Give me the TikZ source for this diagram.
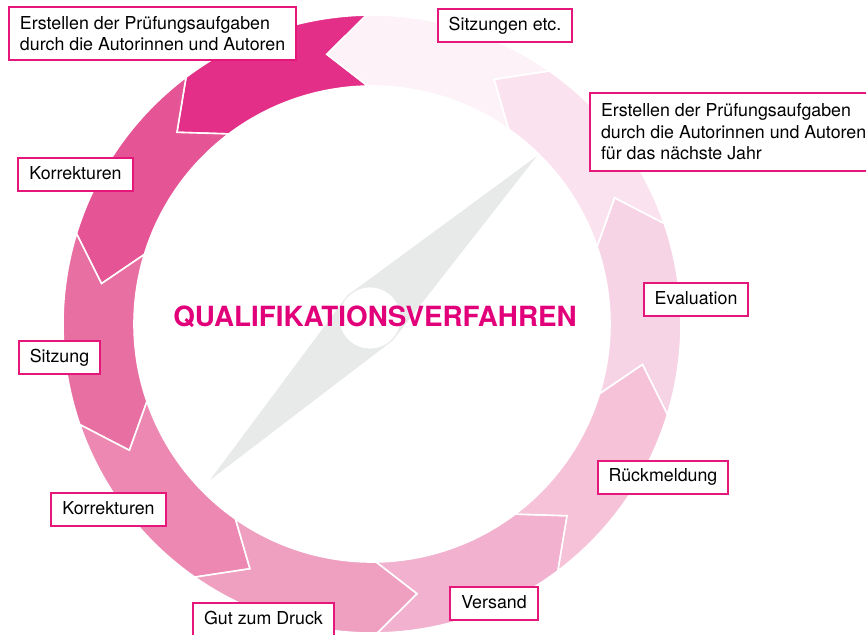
\documentclass[tikz,border=0pt]{standalone}
\usepackage{fontspec}
\setmainfont{TeX Gyre Heros}
\usepackage{xcolor}
\definecolor{qv-magenta}{HTML}{E2007A}
\definecolor{qv-frame}{HTML}{E5177B}
\definecolor{qv-needle}{HTML}{E8E9E9}
\definecolor{seg-0}{HTML}{E32F88}
\definecolor{seg-1}{HTML}{E55495}
\definecolor{seg-2}{HTML}{E86FA2}
\definecolor{seg-3}{HTML}{EC88B1}
\definecolor{seg-4}{HTML}{EF9FC0}
\definecolor{seg-5}{HTML}{F2B1CE}
\definecolor{seg-6}{HTML}{F5C2D8}
\definecolor{seg-7}{HTML}{F7D4E5}
\definecolor{seg-8}{HTML}{FAE3EE}
\definecolor{seg-9}{HTML}{FDF2F7}
\usepackage{tikz}
\tikzset{segment/.style = {draw=white, line width=0.8pt}}
\tikzset{stage/.style = {draw=qv-frame, line width=1pt, fill=white, align=left, inner xsep=5.5pt, inner ysep=4pt, font=\fontsize{8.9}{10.7}\selectfont}}
\tikzset{short/.style = {stage, text height=6.6pt, text depth=1.9pt}}
\tikzset{heading/.style = {text=qv-magenta, font=\fontsize{13.9}{16}\selectfont\bfseries}}

\begin{document}
\begin{tikzpicture}[x=0.5pt, y=0.5pt]

\useasboundingbox (-372,-310) rectangle (494,324);

% ring of arrows, running counterclockwise
\foreach \k/\col in {0/seg-0, 1/seg-1, 2/seg-2, 3/seg-3, 4/seg-4, 5/seg-5, 6/seg-6, 7/seg-7, 8/seg-8, 9/seg-9} {
  \pgfmathsetmacro\a{91+36*\k}
  \pgfmathsetmacro\b{\a+36}
  \filldraw[segment, fill=\col] (\a:309) arc[start angle=\a, end angle=\b, radius=309]
    -- (\b+8.5:273.5) -- (\b:238) arc[start angle=\b, end angle=\a, radius=238]
    -- (\a+8.5:273.5) -- cycle;
}

% compass needle
\coordinate (hub) at (-2,6);
\coordinate (tip-ne) at (165,168);
\coordinate (tip-sw) at (-162,-156);
\coordinate (side-nw) at (-24.6,28.6);
\coordinate (side-se) at (20.6,-16.6);
\fill[qv-needle] (tip-ne) -- (side-nw) -- (tip-sw) -- (side-se) -- cycle;
\filldraw[fill=white, draw=qv-needle, line width=0.4pt] (hub) circle (31);

\node[heading] (title) at (3,7.5) {QUALIFIKATIONSVERFAHREN};

\node[stage, anchor=west, minimum height=26.5pt] (erstellen) at (-364,290.5) {Erstellen der Prüfungsaufgaben\\durch die Autorinnen und Autoren};
\node[short] (sitzungen) at (133,298.5) {Sitzungen etc.};
\node[stage, anchor=west, minimum height=39pt] (naechstes) at (217,192) {Erstellen der Prüfungsaufgaben\\durch die Autorinnen und Autoren\\für das nächste Jahr};
\node[short] (korr-oben) at (-296.5,149.5) {Korrekturen};
\node[short] (evaluation) at (324,24.5) {Evaluation};
\node[short] (sitzung) at (-312.5,-33.5) {Sitzung};
\node[short] (rueckmeldung) at (291,-153) {Rückmeldung};
\node[short] (korr-unten) at (-263.5,-185.5) {Korrekturen};
\node[short] (versand) at (122,-279.5) {Versand};
\node[short] (druck) at (-108.5,-295.5) {Gut zum Druck};

\end{tikzpicture}
\end{document}
